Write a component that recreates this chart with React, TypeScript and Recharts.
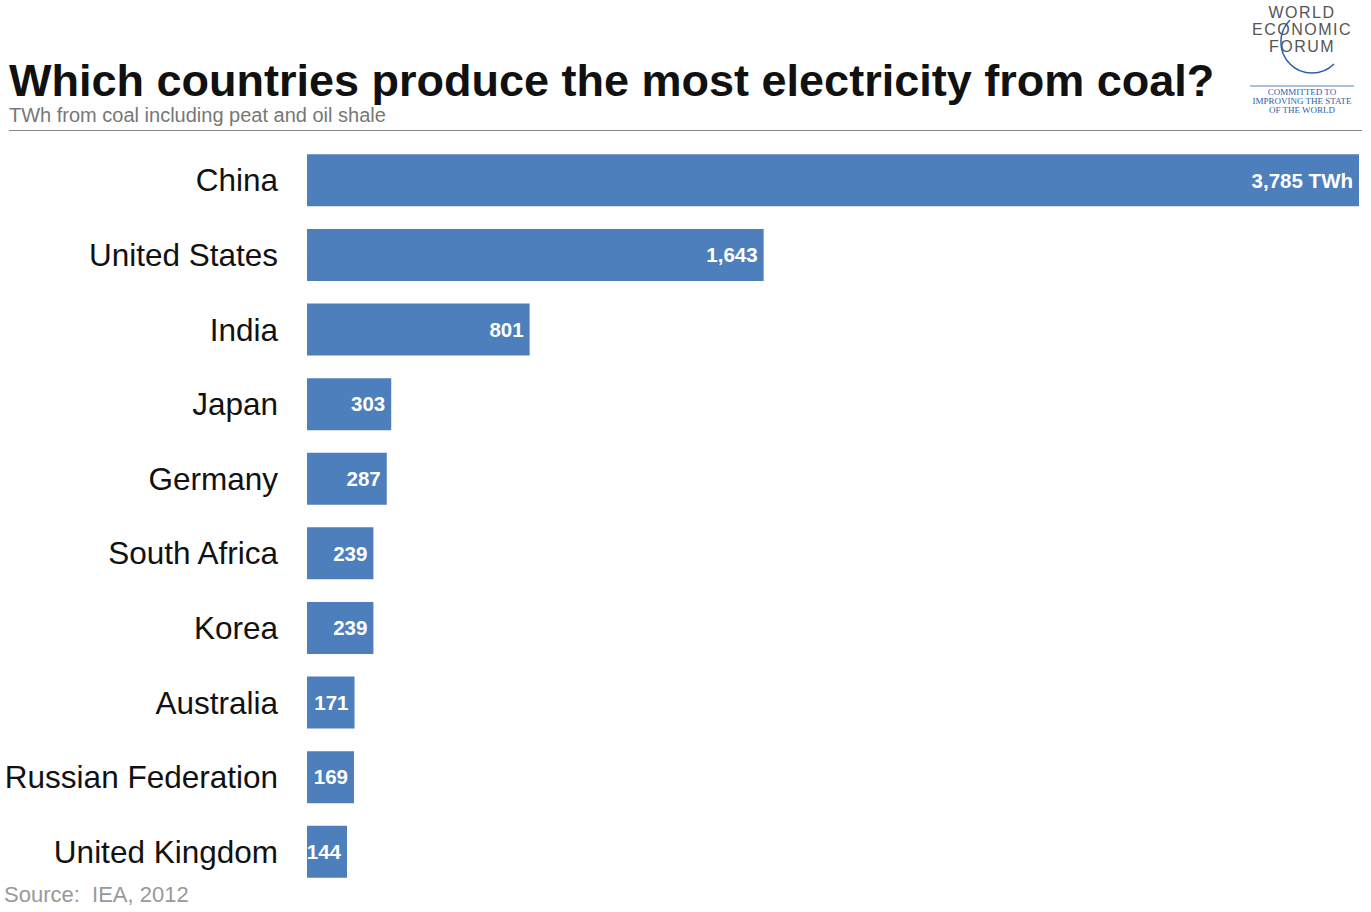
import React from "react";
import { BarChart, Bar, XAxis, YAxis, LabelList } from "recharts";

const countries = ["China", "United States", "India", "Japan", "Germany", "South Africa", "Korea", "Australia", "Russian Federation", "United Kingdom"];
const twh = [3785, 1643, 801, 303, 287, 239, 239, 171, 169, 144];
const valueLabels = ["3,785 TWh", "1,643", "801", "303", "287", "239", "239", "171", "169", "144"];

const data = countries.map((c, i) => ({ name: c, value: twh[i], label: valueLabels[i] }));

const BLUE = "#4e7fbd";
const FONT = "'Liberation Sans', Arial, Helvetica, sans-serif";

const CountryTick = (props: any) => {
  const { y, payload } = props;
  return (
    <text x={278} y={y} dy={11} textAnchor="end" fontSize={31.5} fill="#111" fontFamily={FONT}>
      {payload.value}
    </text>
  );
};

export default function App() {
  return (
    <div style={{ position: "absolute", left: 0, top: 0, width: 1371, height: 912, background: "#fff", fontFamily: FONT }}>
      <div style={{ position: "absolute", left: 9, top: 55, fontSize: 45, fontWeight: 700, color: "#111", whiteSpace: "nowrap" }}>
        Which countries produce the most electricity from coal?
      </div>
      <div style={{ position: "absolute", left: 9, top: 104, fontSize: 20, color: "#777", whiteSpace: "nowrap" }}>
        TWh from coal including peat and oil shale
      </div>
      <div style={{ position: "absolute", left: 9, top: 130, width: 1353, height: 1, background: "#888" }} />
      <div style={{ position: "absolute", left: 1246, top: 4, width: 112, textAlign: "center", color: "#555", fontSize: 16, letterSpacing: 1.5, lineHeight: "17px" }}>
        <div>WORLD</div>
        <div>ECONOMIC</div>
        <div>FORUM</div>
      </div>
      <svg style={{ position: "absolute", left: 1246, top: 0 }} width={120} height={90}>
        <path d="M 1290 20 A 24 24 0 0 0 1334 64" transform="translate(-1246,0)" fill="none" stroke="#2a5fa8" strokeWidth={1.5} />
        <line x1={4} y1={86} x2={108} y2={86} stroke="#2a5fa8" strokeWidth={0.8} />
      </svg>
      <div style={{ position: "absolute", left: 1246, top: 88, width: 112, textAlign: "center", color: "#2a5fa8", fontSize: 9, lineHeight: "9px", fontFamily: "'Liberation Serif', serif" }}>
        <div>COMMITTED TO</div>
        <div>IMPROVING THE STATE</div>
        <div>OF THE WORLD</div>
      </div>
      <div style={{ position: "absolute", left: 4, top: 882, fontSize: 22, color: "#999", whiteSpace: "nowrap" }}>
        Source:&nbsp; IEA, 2012
      </div>
      <div style={{ position: "absolute", left: 0, top: 0 }}>
        <BarChart width={1371} height={912} data={data} layout="vertical" margin={{ top: 143, right: 12, bottom: 23, left: 0 }} barCategoryGap={11.35}>
          <XAxis type="number" domain={[0, 3785]} hide />
          <YAxis type="category" dataKey="name" width={307} axisLine={false} tickLine={false} tick={<CountryTick />} interval={0} />
          <Bar dataKey="value" fill={BLUE} isAnimationActive={false}>
            <LabelList dataKey="label" position="insideRight" offset={6} fill="#fff" fontSize={20.5} fontWeight={700} fontFamily={FONT} />
          </Bar>
        </BarChart>
      </div>
    </div>
  );
}
